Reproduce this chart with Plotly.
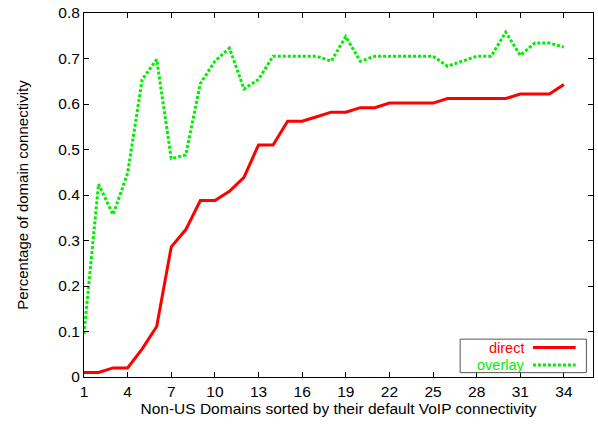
import plotly.graph_objects as go

# Domain index (sorted by default VoIP connectivity)
domains = list(range(1, 35))

direct = [0.01, 0.01, 0.02, 0.02, 0.062, 0.111, 0.286, 0.324, 0.388, 0.388,
          0.408, 0.439, 0.510, 0.510, 0.562, 0.562, 0.572, 0.582, 0.582, 0.592,
          0.592, 0.602, 0.602, 0.602, 0.602, 0.612, 0.612, 0.612, 0.612, 0.612,
          0.622, 0.622, 0.622, 0.643]

overlay = [0.095, 0.424, 0.357, 0.448, 0.654, 0.698, 0.480, 0.488, 0.645, 0.694,
           0.723, 0.633, 0.654, 0.705, 0.705, 0.705, 0.705, 0.694, 0.748, 0.694,
           0.705, 0.705, 0.705, 0.705, 0.705, 0.683, 0.694, 0.705, 0.705, 0.758,
           0.707, 0.734, 0.734, 0.725]

x_ticks = list(range(1, 35, 3))
y_ticks = [0, 0.1, 0.2, 0.3, 0.4, 0.5, 0.6, 0.7, 0.8]
y_tick_text = ["0", "0.1", "0.2", "0.3", "0.4", "0.5", "0.6", "0.7", "0.8"]

series_names = ["direct", "overlay"]
series_colors = ["#ff0000", "#00ee00"]

FONT = "Liberation Sans, Arial, Helvetica, sans-serif"
FS = 15.5

fig = go.Figure()
fig.add_trace(go.Scatter(x=domains, y=direct, mode="lines", name=series_names[0],
                         line=dict(color=series_colors[0], width=3)))
fig.add_trace(go.Scatter(x=domains, y=overlay, mode="lines", name=series_names[1],
                         line=dict(color=series_colors[1], width=3, dash="3px,2px")))

axis_common = dict(showgrid=False, zeroline=False, showline=True, linecolor="black",
                   linewidth=1, mirror="ticks", ticks="inside", ticklen=5,
                   tickcolor="black", tickfont=dict(family=FONT, size=FS, color="black"))

fig.update_xaxes(range=[1, 36], tickvals=x_ticks, ticktext=[str(v) for v in x_ticks],
                 title=dict(text="Non-US Domains sorted by their default VoIP connectivity",
                            font=dict(family=FONT, size=FS, color="black"), standoff=4),
                 **axis_common)
fig.update_yaxes(range=[0, 0.8], tickvals=y_ticks, ticktext=y_tick_text,
                 title=dict(text="Percentage of domain connectivity",
                            font=dict(family=FONT, size=15, color="black"), standoff=26),
                 **axis_common)

# Key box in the lower right: label text followed by a line sample
box_x0, box_x1 = 0.739, 0.987
box_y0, box_y1 = 0.012, 0.104
fig.add_shape(type="rect", xref="paper", yref="paper", x0=box_x0, x1=box_x1,
              y0=box_y0, y1=box_y1, line=dict(color="#555555", width=1),
              fillcolor="white", layer="above")
rows_y = [0.081, 0.033]
for name, color, ry, dash in zip(series_names, series_colors, rows_y, ["solid", "3px,2px"]):
    fig.add_annotation(xref="paper", yref="paper", x=0.866, y=ry, text=name,
                       showarrow=False, xanchor="right", yanchor="middle",
                       height=15, borderpad=0, valign="middle",
                       font=dict(family=FONT, size=14.5, color=color))
    fig.add_shape(type="line", xref="paper", yref="paper", x0=0.882, x1=0.966,
                  y0=ry, y1=ry, line=dict(color=color, width=3, dash=dash), layer="above")

fig.update_layout(width=598, height=426, margin=dict(l=84, r=4, t=11, b=49),
                  plot_bgcolor="white", paper_bgcolor="white", showlegend=False,
                  font=dict(family=FONT, size=FS, color="black"))

fig.write_html("out.html")
